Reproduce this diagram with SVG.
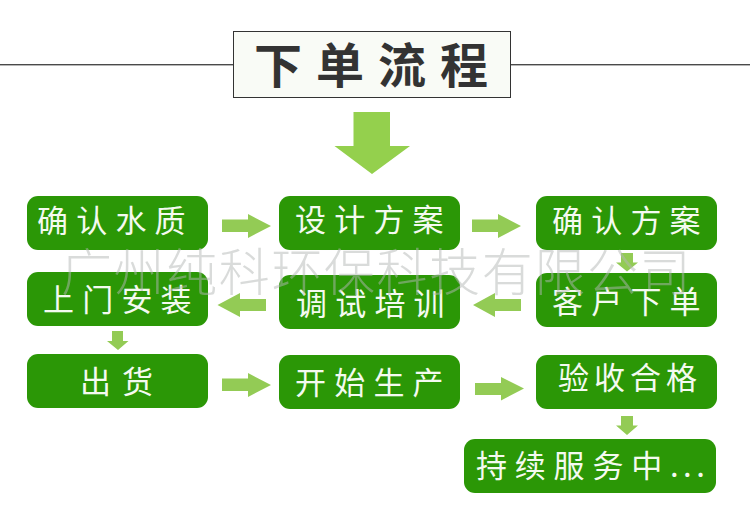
<svg xmlns="http://www.w3.org/2000/svg" width="750" height="525" viewBox="0 0 750 525">
<style>
text{font-family:"Noto Sans CJK SC","Noto Sans",sans-serif}
.n{fill:#2b9706}
.t{fill:#f4faf0;font-size:31px;letter-spacing:8.2px}
.a{fill:#94d04d}
.b{fill:#93cb55}
.w{fill:#b4b8b6;fill-opacity:.5;font-size:51px;font-weight:300;letter-spacing:1.6px}
</style>
<rect width="750" height="525" fill="#fff"/>
<g id="rule" fill="#4a4a4a"><rect x="0" y="64" width="233" height="1.400"/><rect x="511" y="64" width="239" height="1.400"/></g>
<g id="title"><rect x="233.500" y="31.500" width="277" height="66" fill="#f9fbf6" stroke="#333" stroke-width="1"/><text x="254" y="83" font-size="48" font-weight="700" fill="#333" letter-spacing="14">下单流程</text></g>
<g id="connectors">
<polygon class="a" points="353.500,112 390,112 390,146 410,146 372,174 334.500,146 353.500,146"/>
<polygon class="b" points="222,219.500 248,219.500 248,214 271,226 248,238 248,232 222,232"/>
<polygon class="b" points="472,219.500 498,219.500 498,214 521,226 498,238 498,232 472,232"/>
<polygon class="b" points="521,299 495,299 495,293 473,305 495,317 495,311 521,311"/>
<polygon class="b" points="266,299 240,299 240,293 217.500,305 240,317 240,311 266,311"/>
<polygon class="b" points="621,253 633,253 633,262.500 638,262.500 627,271.500 616,262.500 621,262.500"/>
<polygon class="b" points="112,331 123,331 123,341 128.500,341 118,350 107,341 112,341"/>
<polygon class="b" points="222,378.500 248,378.500 248,373 271,385 248,397 248,391 222,391"/>
<polygon class="b" points="475,383 501,383 501,377 524,388.500 501,400.500 501,395 475,395"/>
<polygon class="b" points="621,416 633,416 633,425.500 638,425.500 627,435 616,425.500 621,425.500"/>
</g>
<g id="n1"><rect class="n" x="27" y="196" width="181" height="54" rx="11"/><text class="t" x="37" y="232">确认水质</text></g>
<g id="n2"><rect class="n" x="279" y="196" width="181" height="54" rx="11"/><text class="t" x="295" y="231">设计方案</text></g>
<g id="n3"><rect class="n" x="536" y="196" width="181" height="54" rx="11"/><text class="t" x="552" y="232">确认方案</text></g>
<g id="n4"><rect class="n" x="536" y="273" width="181" height="54" rx="11"/><text class="t" x="552" y="313">客户下单</text></g>
<g id="n5"><rect class="n" x="279" y="275" width="181" height="54" rx="11"/><text class="t" x="296" y="315">调试培训</text></g>
<g id="n6"><rect class="n" x="27" y="272" width="181" height="54" rx="11"/><text class="t" x="43" y="311">上门安装</text></g>
<g id="n7"><rect class="n" x="27" y="354" width="181" height="54" rx="11"/><text class="t" x="80" y="393" style="letter-spacing:11px">出货</text></g>
<g id="n8"><rect class="n" x="279" y="355" width="181" height="54" rx="11"/><text class="t" x="295" y="394">开始生产</text></g>
<g id="n9"><rect class="n" x="536" y="355" width="181" height="54" rx="11"/><text class="t" x="558" y="389" style="letter-spacing:5px">验收合格</text></g>
<g id="n10"><rect class="n" x="464" y="439" width="252" height="54" rx="11"/><text class="t" x="476" y="477" style="letter-spacing:7.800px">持续服务中<tspan style="letter-spacing:4.500px">...</tspan></text></g>
<g id="watermark"><text class="w" x="61" y="291">广州纯科环保科技有限公司</text></g>
</svg>
